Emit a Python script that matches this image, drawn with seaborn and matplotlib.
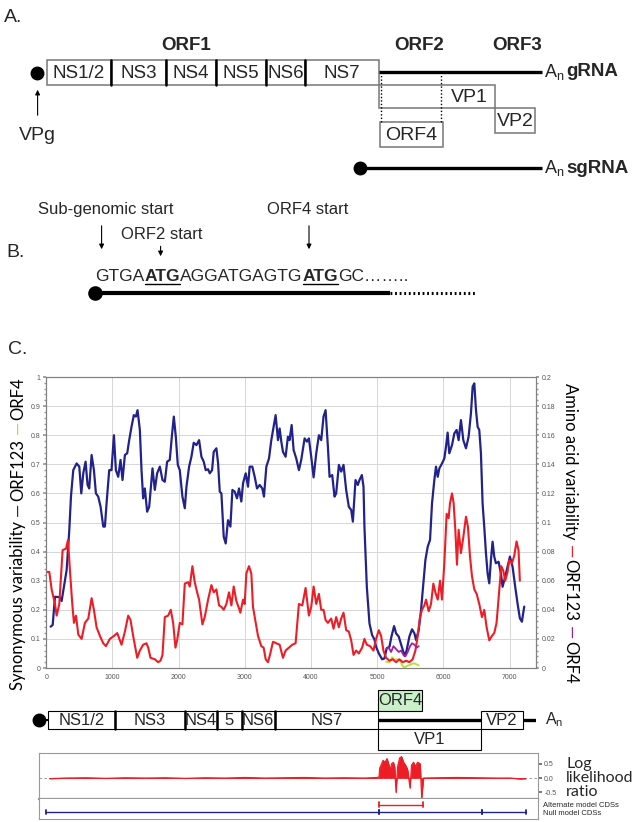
import numpy as np
import pandas as pd
import matplotlib
matplotlib.use("Agg")
import matplotlib.pyplot as plt
from matplotlib.patches import Rectangle
from matplotlib.ticker import MultipleLocator
import seaborn as sns

sns.set_theme(style="white")
plt.rcParams["font.family"] = ["Liberation Sans", "DejaVu Sans"]
plt.rcParams["mathtext.default"] = "regular"

BLUE = "#22228c"
RED = "#ee1c25"
PURPLE = "#a020a0"
GREEN = "#b8e02a"

# ---- panel C: synonymous variability (left axis) ----
syn_x = [67, 98, 133, 208, 233, 268, 309, 349, 374, 409, 460, 500, 530, 560, 595, 625, 650, 686,
         721, 751, 786, 822, 862, 887, 912, 952, 987, 1023, 1053, 1088, 1123, 1153, 1189, 1224,
         1254, 1289, 1324, 1355, 1380, 1415, 1440, 1465, 1490, 1525, 1556, 1606, 1641, 1676, 1717,
         1757, 1792, 1827, 1867, 1898, 1928, 1958, 1988, 2018, 2058, 2094, 2119, 2159, 2194, 2229,
         2270, 2310, 2345, 2380, 2410, 2446, 2471, 2506, 2531, 2571, 2597, 2622, 2647, 2682, 2712,
         2747, 2783, 2813, 2848, 2883, 2913, 2948, 2974, 3014, 3049, 3074, 3114, 3150, 3185, 3225,
         3265, 3290, 3326, 3366, 3401, 3436, 3466, 3502, 3527, 3552, 3577, 3617, 3652, 3677, 3708,
         3738, 3778, 3818, 3853, 3904, 3939, 3969, 4004, 4040, 4080, 4120, 4155, 4190, 4221, 4256,
         4281, 4321, 4356, 4381, 4422, 4457, 4492, 4532, 4572, 4608, 4633, 4673, 4708, 4733, 4769,
         4794, 4808, 4844, 4884, 4924, 4959, 4984, 5025, 5075, 5110, 5145, 5186, 5216, 5256, 5286,
         5326, 5356, 5387, 5417, 5447, 5487, 5527, 5563, 5588, 5628, 5663, 5698, 5729, 5764, 5799,
         5829, 5864, 5889, 5915, 5940, 5980, 6015, 6040, 6065, 6090, 6131, 6166, 6201, 6231, 6266,
         6302, 6342, 6382, 6417, 6443, 6468, 6493, 6518, 6543, 6568, 6593, 6618, 6644, 6669, 6694,
         6719, 6744, 6769, 6794, 6835, 6870, 6895, 6935, 6970, 7006, 7046, 7086, 7121, 7156, 7187,
         7222]
syn_orf123 = [0.142, 0.148, 0.245, 0.243, 0.23, 0.279, 0.337, 0.474, 0.589, 0.68, 0.703, 0.692,
              0.60, 0.669, 0.709, 0.629, 0.617, 0.732, 0.68, 0.60, 0.589, 0.554, 0.486, 0.486,
              0.566, 0.68, 0.68, 0.80, 0.68, 0.657, 0.715, 0.646, 0.732, 0.738, 0.783, 0.829,
              0.869, 0.864, 0.886, 0.818, 0.68, 0.583, 0.617, 0.537, 0.554, 0.686, 0.612, 0.669,
              0.692, 0.646, 0.64, 0.709, 0.715, 0.795, 0.864, 0.795, 0.698, 0.68, 0.589, 0.549,
              0.623, 0.692, 0.726, 0.774, 0.766, 0.783, 0.726, 0.709, 0.68, 0.683, 0.669, 0.68,
              0.743, 0.755, 0.703, 0.606, 0.60, 0.451, 0.428, 0.508, 0.486, 0.612, 0.606, 0.583,
              0.617, 0.572, 0.635, 0.669, 0.623, 0.692, 0.692, 0.657, 0.617, 0.629, 0.617, 0.589,
              0.692, 0.72, 0.783, 0.829, 0.869, 0.783, 0.823, 0.778, 0.743, 0.726, 0.795, 0.783,
              0.835, 0.749, 0.72, 0.68, 0.715, 0.789, 0.778, 0.789, 0.726, 0.655, 0.738, 0.80,
              0.783, 0.864, 0.886, 0.76, 0.657, 0.663, 0.589, 0.60, 0.698, 0.675, 0.698, 0.612,
              0.554, 0.543, 0.503, 0.646, 0.629, 0.646, 0.663, 0.623, 0.486, 0.279, 0.153, 0.113,
              0.098, 0.073, 0.05, 0.03, 0.033, 0.068, 0.073, 0.108, 0.144, 0.119, 0.108, 0.085,
              0.062, 0.041, 0.062, 0.108, 0.133, 0.119, 0.096, 0.131, 0.199, 0.291, 0.371, 0.417,
              0.44, 0.566, 0.646, 0.692, 0.657, 0.686, 0.703, 0.72, 0.76, 0.809, 0.738, 0.766,
              0.806, 0.818, 0.783, 0.852, 0.783, 0.755, 0.795, 0.875, 0.967, 0.978, 0.887, 0.829,
              0.818, 0.738, 0.566, 0.486, 0.394, 0.325, 0.291, 0.371, 0.434, 0.383, 0.36, 0.365,
              0.325, 0.279, 0.314, 0.348, 0.383, 0.348, 0.279, 0.222, 0.171, 0.159, 0.211]
syn4_x = [5135, 5186, 5226, 5261, 5296, 5336, 5377, 5412, 5447, 5487, 5527, 5563, 5598, 5628]
syn_orf4 = [0.022, 0.019, 0.037, 0.028, 0.03, 0.028, 0.01, 0.001, 0.007, 0.01, 0.014, 0.016,
            0.012, 0.009]

# ---- panel C: amino acid variability (right axis) ----
aa_x = [7, 47, 82, 133, 158, 198, 248, 299, 329, 359, 394, 419, 450, 485, 535, 585, 636, 686,
        721, 761, 812, 862, 902, 962, 1023, 1073, 1138, 1189, 1239, 1274, 1314, 1375, 1415, 1465,
        1515, 1541, 1576, 1641, 1691, 1727, 1757, 1792, 1842, 1882, 1918, 1953, 1978, 2018, 2058,
        2094, 2144, 2169, 2209, 2244, 2280, 2310, 2360, 2395, 2446, 2496, 2531, 2571, 2612, 2647,
        2682, 2722, 2762, 2798, 2833, 2873, 2913, 2933, 2974, 2999, 3024, 3064, 3099, 3124, 3165,
        3200, 3250, 3285, 3316, 3351, 3386, 3426, 3476, 3527, 3577, 3617, 3668, 3718, 3768, 3818,
        3869, 3919, 3969, 4004, 4040, 4080, 4120, 4155, 4190, 4221, 4256, 4306, 4341, 4381, 4422,
        4457, 4492, 4532, 4572, 4608, 4643, 4683, 4723, 4773, 4808, 4844, 4894, 4944, 4984, 5025,
        5060, 5095, 5135, 5186, 5236, 5286, 5336, 5387, 5437, 5487, 5537, 5578, 5613, 5648, 5678,
        5713, 5739, 5779, 5814, 5849, 5879, 5915, 5950, 5980, 6015, 6050, 6080, 6100, 6131, 6156,
        6181, 6206, 6231, 6266, 6302, 6342, 6372, 6402, 6433, 6468, 6503, 6543, 6583, 6618, 6654,
        6694, 6734, 6769, 6804, 6845, 6875, 6905, 6935, 6970, 6996, 7036, 7071, 7106, 7136, 7156]
aa_orf123 = [0.066, 0.066, 0.054, 0.044, 0.036, 0.044, 0.081, 0.082, 0.088, 0.067, 0.044, 0.031,
             0.036, 0.023, 0.020, 0.031, 0.034, 0.048, 0.040, 0.028, 0.022, 0.017, 0.015, 0.020,
             0.022, 0.024, 0.016, 0.025, 0.036, 0.033, 0.022, 0.007, 0.012, 0.016, 0.017, 0.014,
             0.007, 0.006, 0.004, 0.005, 0.009, 0.035, 0.036, 0.040, 0.031, 0.014, 0.019, 0.031,
             0.030, 0.058, 0.059, 0.056, 0.070, 0.059, 0.052, 0.047, 0.030, 0.035, 0.047, 0.057,
             0.052, 0.054, 0.043, 0.042, 0.040, 0.044, 0.052, 0.043, 0.056, 0.046, 0.041, 0.038,
             0.047, 0.044, 0.065, 0.070, 0.065, 0.042, 0.031, 0.022, 0.015, 0.014, 0.006, 0.004,
             0.010, 0.018, 0.017, 0.016, 0.007, 0.012, 0.014, 0.016, 0.017, 0.044, 0.043, 0.055,
             0.036, 0.042, 0.056, 0.044, 0.051, 0.040, 0.040, 0.033, 0.031, 0.034, 0.027, 0.035,
             0.028, 0.034, 0.038, 0.026, 0.025, 0.019, 0.009, 0.012, 0.010, 0.014, 0.020, 0.016,
             0.015, 0.012, 0.020, 0.026, 0.022, 0.012, 0.007, 0.005, 0.006, 0.004, 0.006, 0.004,
             0.005, 0.004, 0.006, 0.012, 0.022, 0.035, 0.040, 0.043, 0.047, 0.039, 0.044, 0.058,
             0.052, 0.047, 0.060, 0.047, 0.072, 0.106, 0.103, 0.113, 0.120, 0.113, 0.095, 0.071,
             0.095, 0.079, 0.090, 0.104, 0.097, 0.077, 0.063, 0.054, 0.051, 0.044, 0.035, 0.040,
             0.028, 0.019, 0.022, 0.024, 0.031, 0.054, 0.070, 0.067, 0.060, 0.066, 0.074, 0.072,
             0.077, 0.087, 0.081, 0.060]
aa4_x = [5135, 5175, 5211, 5246, 5286, 5326, 5362, 5397, 5427, 5462, 5497, 5527, 5563, 5598, 5628]
aa_orf4 = [0.013, 0.014, 0.011, 0.015, 0.013, 0.011, 0.012, 0.009, 0.008, 0.011, 0.015, 0.017,
           0.016, 0.014, 0.015]

# ---- genome map under the chart (nt) ----
ns_names = ["NS1/2", "NS3", "NS4", "5", "NS6", "NS7"]
ns_edges = [27, 1037, 2093, 2584, 2953, 3451, 5020]
orf4_span = (5020, 5683)
vp1_span = (5020, 6569)
vp2_span = (6569, 7207)
genome_end = 7489

# ---- log likelihood ratio ----
llr_pos = [50, 300, 600, 900, 1200, 1500, 1800, 2100, 2400, 2700, 3000, 3300, 3600, 3900, 4200,
           4500, 4800, 5000, 5020, 5030, 5060, 5080, 5110, 5140, 5170, 5190, 5210, 5235, 5255,
           5276, 5300, 5330, 5360, 5390, 5420, 5450, 5487, 5510, 5540, 5570, 5600, 5640, 5663,
           5690, 5900, 6200, 6500, 6800, 7000, 7150, 7230]
llr_val = [-0.02, 0.0, 0.01, -0.01, 0.01, 0.0, 0.01, -0.01, 0.01, 0.0, 0.02, 0.0, 0.01, 0.02, 0.0,
           0.01, 0.0, 0.02, 0.05, 0.35, 0.5, 0.62, 0.55, 0.68, 0.45, 0.3, 0.5, 0.55, 0.4, -0.5,
           0.4, 0.7, 0.75, 0.55, 0.45, 0.3, -0.35, 0.45, 0.55, 0.4, 0.55, 0.5, -0.7, 0.0, 0.01,
           0.02, 0.01, 0.0, 0.0, -0.03, -0.02]
alt_cds = [(5020, 5683)]
null_cds = [(0, 5020), (5020, 6569), (6569, 7240)]

W, H = 638, 822
fig = plt.figure(figsize=(W / 100, H / 100), dpi=100)
fig.patch.set_facecolor("white")


def box(left, top, right, bottom):
    return [left / W, 1 - bottom / H, (right - left) / W, (bottom - top) / H]


ax0 = fig.add_axes([0, 0, 1, 1])
ax0.set_xlim(0, W)
ax0.set_ylim(H, 0)
ax0.axis("off")

# ---------------- panel A ----------------
ax0.text(4, 17, "A.", fontsize=14, va="center")
a_edges = [47, 111, 165.6, 215.5, 266, 304.7, 379]
for l, r, name in zip(a_edges[:-1], a_edges[1:], ns_names[:3] + ["NS5", "NS6", "NS7"]):
    ax0.add_patch(Rectangle((l, 60.5), r - l, 24.5, fill=False, ec="#777777", lw=1.1))
    ax0.text((l + r) / 2, 73, name, ha="center", va="center", fontsize=13.5)
for e in a_edges[1:-1]:
    ax0.plot([e, e], [60.5, 85], color="black", lw=1.8)
for x, t in [(186, "ORF1"), (419, "ORF2"), (517, "ORF3")]:
    ax0.text(x, 45, t, ha="center", va="center", fontsize=13.5, fontweight="bold")
ax0.plot([37], [73], "o", color="black", ms=9)
ax0.annotate("", xy=(37.6, 87), xytext=(37.6, 118),
             arrowprops=dict(arrowstyle="-|>", color="black", lw=0.8, mutation_scale=7))
ax0.text(37, 135, "VPg", ha="center", va="center", fontsize=14)
ax0.plot([379, 542], [71.6, 71.6], color="black", lw=2.4, solid_capstyle="butt")
ax0.add_patch(Rectangle((379, 85), 116, 23, fill=False, ec="#777777", lw=1.1))
ax0.text(469, 97, "VP1", ha="center", va="center", fontsize=14)
ax0.add_patch(Rectangle((495, 108), 40, 25, fill=False, ec="#777777", lw=1.1))
ax0.text(515, 121, "VP2", ha="center", va="center", fontsize=14)
ax0.add_patch(Rectangle((380, 122), 63, 25, fill=False, ec="#777777", lw=1.1))
ax0.text(411.5, 135, "ORF4", ha="center", va="center", fontsize=14)
for x in (380.5, 441):
    ax0.plot([x, x], [72, 122], color="black", lw=1.0, ls=(0, (1, 1.5)))
ax0.text(544, 71.6, r"A$_\mathregular{n}$", va="center", fontsize=13)
ax0.text(566, 72, "gRNA", va="center", fontsize=13.5, fontweight="bold")
ax0.plot([360], [168], "o", color="black", ms=9)
ax0.plot([360, 542], [168, 168], color="black", lw=2.4, solid_capstyle="butt")
ax0.text(544, 168, r"A$_\mathregular{n}$", va="center", fontsize=13)
ax0.text(566, 168.5, "sgRNA", va="center", fontsize=13.5, fontweight="bold")

# ---------------- panel B ----------------
ax0.text(6, 252, "B.", fontsize=14, va="center")
for x, y, t in [(106, 209, "Sub-genomic start"), (162, 234, "ORF2 start"), (308, 209, "ORF4 start")]:
    ax0.text(x, y, t, ha="center", va="center", fontsize=12)
for x, y0, y1 in [(101.6, 223, 252), (160.6, 243.5, 259), (309, 223, 252)]:
    ax0.annotate("", xy=(x, y1), xytext=(x, y0),
                 arrowprops=dict(arrowstyle="-|>", color="black", lw=0.8, mutation_scale=7))
renderer = fig.canvas.get_renderer()


def text_width(s, **kw):
    t = fig.text(0, 0, s, **kw)
    w = t.get_window_extent(renderer).width
    t.remove()
    return w


seq_pieces = [("GTGA", False), ("ATG", True), ("AGGATGAGTG", False), ("ATG", True), ("GC……..", False)]
x = 95.5
for s, bold in seq_pieces:
    kw = dict(fontsize=12.5, fontweight="bold" if bold else "normal")
    w = text_width(s, **kw)
    ax0.text(x, 281, s, ha="left", va="baseline", **kw)
    if bold:
        ax0.plot([x, x + w], [284.5, 284.5], color="black", lw=1.0)
    x += w
ax0.plot([95], [293.5], "o", color="black", ms=9.5)
ax0.plot([95, 390], [293.5, 293.5], color="black", lw=3, solid_capstyle="butt")
ax0.plot([390, 476], [293.5, 293.5], color="black", lw=2.2, ls=(0, (0.6, 0.9)))

# ---------------- panel C ----------------
ax0.text(8, 349, "C.", fontsize=14, va="center")

ax = fig.add_axes(box(46.2, 377, 536, 668))
sns.lineplot(x=syn_x, y=syn_orf123, ax=ax, color=BLUE, linewidth=1.6, sort=False)
sns.lineplot(x=syn4_x, y=syn_orf4, ax=ax, color=GREEN, linewidth=1.3, sort=False)
ax.set_xlim(0, 7400)
ax.set_ylim(0, 1)
ax.set_xticks(range(0, 7001, 1000))
ax.set_yticks(np.round(np.arange(0, 1.01, 0.1), 1))
ax.set_yticklabels(["0"] + [f"{v:.1f}" for v in np.arange(0.1, 0.95, 0.1)] + ["1"])
ax.xaxis.set_minor_locator(MultipleLocator(200))
ax.yaxis.set_minor_locator(MultipleLocator(0.02))
ax.grid(True, which="major", color="#d6d6d6", lw=0.7)
ax.set_xlabel("")
ax.set_ylabel("")
for sp in ax.spines.values():
    sp.set_color("#808080")
    sp.set_linewidth(0.8)
ax.tick_params(which="both", labelsize=5, labelcolor="#555555", color="#999999", pad=2,
               direction="out")
ax.tick_params(which="major", length=2)
ax.tick_params(which="minor", length=1.2)

ax2 = ax.twinx()
sns.lineplot(x=aa_x, y=aa_orf123, ax=ax2, color=RED, linewidth=1.5, sort=False)
sns.lineplot(x=aa4_x, y=aa_orf4, ax=ax2, color=PURPLE, linewidth=1.3, sort=False)
ax2.set_ylim(0, 0.2)
ax2.set_yticks(np.round(np.arange(0, 0.201, 0.02), 2))
ax2.set_yticklabels(["0"] + [f"{v:.2f}".rstrip("0") for v in np.arange(0.02, 0.201, 0.02)])
ax2.yaxis.set_minor_locator(MultipleLocator(0.004))
ax2.set_ylabel("")
for sp in ax2.spines.values():
    sp.set_color("#808080")
    sp.set_linewidth(0.8)
ax2.tick_params(which="both", labelsize=5, labelcolor="#555555", color="#999999", pad=2)
ax2.tick_params(which="major", length=2)
ax2.tick_params(which="minor", length=1.2)


def stacked_label(xc, y_top, pieces, rotation, size, family):
    kw = dict(fontsize=size, family=family)
    sp = text_width("n n", **kw) - text_width("nn", **kw)
    widths = [text_width(p, **kw) for p, _, _ in pieces]
    total = sum(widths) + sp * sum(g for _, _, g in pieces)
    top = H - y_top
    if rotation == 90:
        pos = top - total
        for (p, c, g), w in zip(pieces, widths):
            pos += g * sp
            fig.text(xc / W, pos / H, p, rotation=90, ha="center", va="bottom", color=c, **kw)
            pos += w
    else:
        pos = top
        for (p, c, g), w in zip(pieces, widths):
            pos -= g * sp
            fig.text(xc / W, pos / H, p, rotation=270, ha="center", va="top", color=c, **kw)
            pos -= w


lab_font = ["Lato", "DejaVu Sans"]
stacked_label(18, 377, [("Synonymous variability", "black", 0), ("—", BLUE, 1.2),
                        ("ORF123", "black", 0.3), ("—", GREEN, 1.2), ("ORF4", "black", 0.3)],
              90, 12, lab_font)
stacked_label(570, 383, [("Amino acid variability", "black", 0), ("—", RED, 1.2),
                         ("ORF123", "black", 0.3), ("—", PURPLE, 1.2), ("ORF4", "black", 0.3)],
              270, 12, lab_font)

# ---------------- genome map ----------------
dy = 4
axm = fig.add_axes(box(46.2, 680 + dy, 536, 750 + dy))
axm.set_xlim(0, 7400)
axm.set_ylim(750, 680)
axm.axis("off")
row_top, row_bot, mid = 707, 725, 716
for l, r, name in zip(ns_edges[:-1], ns_edges[1:], ns_names):
    axm.add_patch(Rectangle((l, row_top), r - l, row_bot - row_top, fc="white", ec="black", lw=0.8))
    axm.text((l + r) / 2, mid, name, ha="center", va="center", fontsize=12)
for e in ns_edges[1:-1]:
    axm.plot([e, e], [row_top, row_bot], color="black", lw=1.8)
axm.plot([ns_edges[-1], genome_end], [mid, mid], color="black", lw=2.4, solid_capstyle="butt")
axm.plot([-108], [mid], "o", color="black", ms=9, clip_on=False)
axm.plot([-108, ns_edges[0]], [mid, mid], color="black", lw=1.5, clip_on=False)
axm.add_patch(Rectangle((vp2_span[0], row_top), vp2_span[1] - vp2_span[0], row_bot - row_top,
                        fc="white", ec="black", lw=0.8, zorder=3))
axm.text(sum(vp2_span) / 2, mid, "VP2", ha="center", va="center", fontsize=12, zorder=4)
axm.add_patch(Rectangle((orf4_span[0], 686), orf4_span[1] - orf4_span[0], row_top - 686,
                        fc="#c9f0c9", ec="black", lw=0.8))
axm.text(sum(orf4_span) / 2, 696.5, "ORF4", ha="center", va="center", fontsize=12)
axm.add_patch(Rectangle((vp1_span[0], row_bot), vp1_span[1] - vp1_span[0], 21,
                        fc="white", ec="black", lw=0.8))
axm.text(sum(vp1_span) / 2, 735.5, "VP1", ha="center", va="center", fontsize=12)
axm.text(7540, mid, r"A$_\mathregular{n}$", va="center", fontsize=11.5)

# ---------------- log likelihood ratio ----------------
axl = fig.add_axes(box(39.4, 749 + dy, 538, 795 + dy))
axl.fill_between(llr_pos, 0, llr_val, color=RED, lw=0.5)
sns.lineplot(x=llr_pos, y=llr_val, ax=axl, color=RED, linewidth=0.8, sort=False)
axl.axhline(0, color="#888888", lw=0.6, ls=(0, (3, 3)), zorder=0)
axl.set_xlim(-102.6, 7418)
axl.set_ylim(-0.734, 0.874)
axl.set_xticks([])
axl.yaxis.tick_right()
axl.set_yticks([0.5, 0.0, -0.5])
axl.set_yticklabels(["0.5", "0.0", "-0.5"])
axl.tick_params(axis="y", labelsize=5, labelcolor="#555555", color="#666666", length=3, pad=1.5,
                direction="out")
axl.set_ylabel("")
for sp in axl.spines.values():
    sp.set_color("#999999")
    sp.set_linewidth(0.8)
axl.spines["bottom"].set_linewidth(1.6)
for y, t in [(760, "Log"), (774, "likelihood"), (788, "ratio")]:
    ax0.text(566, y + dy, t, va="center", fontsize=11.5, family=lab_font)

# ---------------- CDS tracks ----------------
axc = fig.add_axes(box(39.4, 795 + dy, 538, 818.5))
axc.set_xlim(-102.6, 7418)
axc.set_ylim(1.9, -0.75)
for row, spans, col in [(0, alt_cds, RED), (1, null_cds, BLUE)]:
    for a, b in spans:
        axc.plot([a, b], [row, row], color=col, lw=1.0)
        axc.plot([a, a], [row - 0.3, row + 0.3], color=col, lw=1.3)
        axc.plot([b, b], [row - 0.3, row + 0.3], color=col, lw=1.3)
axc.set_yticks([])
axc.set_xticks([])
axc.xaxis.set_minor_locator(MultipleLocator(200))
axc.tick_params(axis="x", which="minor", length=1.5, color="#aaaaaa", direction="in")
for sp in axc.spines.values():
    sp.set_color("#999999")
    sp.set_linewidth(0.8)
axc.spines["top"].set_visible(False)
ax0.text(543, 801 + dy, "Alternate model CDSs", va="center", fontsize=5.5)
ax0.text(543, 809 + dy, "Null model CDSs", va="center", fontsize=5.5)

fig.savefig("out.png", dpi=100, facecolor="white")
